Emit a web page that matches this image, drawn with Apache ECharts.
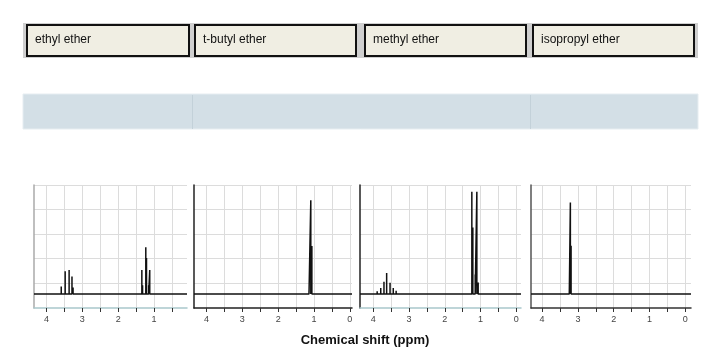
<!DOCTYPE html>
<html>
<head>
<meta charset="utf-8">
<script src="https://cdn.jsdelivr.net/npm/echarts@6/dist/echarts.min.js"></script>
<style>html,body{margin:0;padding:0;background:#fff}#c{width:722px;height:359px}</style>
</head>
<body>
<div id="c"></div>
<script>
// ---- data ----
const panelNames = ['ethyl ether', 't-butyl ether', 'methyl ether', 'isopropyl ether'];
const xTickValues = [0, 0.5, 1, 1.5, 2, 2.5, 3, 3.5, 4];
const xLabelValues = [0, 1, 2, 3, 4];
const yGridValues = [0.1, 0.325, 0.55, 0.775, 1.0];
const axisTitle = 'Chemical shift (ppm)';

const ethylShift  = [3.59, 3.48, 3.37, 3.29, 3.26, 1.34, 1.32, 1.23, 1.21, 1.15, 1.12];
const ethylHeight = [0.07, 0.21, 0.22, 0.16, 0.06, 0.22, 0.08, 0.43, 0.33, 0.08, 0.22];
const tbutylShift  = [1.14, 1.09, 1.06];
const tbutylHeight = [0.03, 0.86, 0.44];
const methylShift  = [3.89, 3.79, 3.70, 3.625, 3.53, 3.44, 3.36, 1.244, 1.216, 1.15, 1.104, 1.067];
const methylHeight = [0.025, 0.055, 0.113, 0.193, 0.104, 0.055, 0.03, 0.939, 0.61, 0.18, 0.939, 0.107];
const isoShift  = [3.24, 3.21, 3.19];
const isoHeight = [0.024, 0.84, 0.443];

const shifts = [ethylShift, tbutylShift, methylShift, isoShift];
const heights = [ethylHeight, tbutylHeight, methylHeight, isoHeight];

// ---- layout ----
const grids = [
  {left: 34, top: 185, width: 153, height: 123, xmin: 0.08, xmax: 4.35, yLine: '#aaaaaa', xLine: '#a9c8cc'},
  {left: 194, top: 185, width: 158, height: 123, xmin: -0.06, xmax: 4.35, yLine: '#222222', xLine: '#222222'},
  {left: 360, top: 185, width: 161, height: 123, xmin: -0.13, xmax: 4.37, yLine: '#222222', xLine: '#a9c8cc'},
  {left: 531, top: 185, width: 160, height: 123, xmin: -0.16, xmax: 4.31, yLine: '#555555', xLine: '#333333'}
];
const yMin = -0.128, yMax = 1.0;

function spectrum(i) {
  const g = grids[i];
  const pts = shifts[i].map((s, k) => [s, heights[i][k]]).sort((a, b) => b[0] - a[0]);
  const out = [[g.xmax, 0]];
  pts.forEach(p => { out.push([p[0], 0]); out.push([p[0], p[1]]); out.push([p[0], 0]); });
  out.push([g.xmin, 0]);
  return out;
}

const option = {
  animation: false,
  backgroundColor: '#ffffff',
  grid: grids.map(g => ({left: g.left, top: g.top, width: g.width, height: g.height, containLabel: false})),
  xAxis: grids.map((g, i) => ({
    type: 'value', gridIndex: i, inverse: true, min: g.xmin, max: g.xmax,
    axisLine: {show: true, onZero: false, lineStyle: {color: g.xLine, width: 1.5}},
    axisTick: {show: true, customValues: xTickValues, length: 4, lineStyle: {color: '#333', width: 1}},
    axisLabel: {show: true, customValues: xLabelValues, fontSize: 9, color: '#444', margin: 7,
                fontFamily: 'Liberation Sans'},
    splitLine: {show: true, lineStyle: {color: '#dcdcdc', width: 1}}
  })),
  yAxis: grids.map((g, i) => ({
    type: 'value', gridIndex: i, min: yMin, max: yMax,
    axisLine: {show: true, onZero: false, lineStyle: {color: g.yLine, width: 1.5}},
    axisTick: {show: false, customValues: yGridValues},
    axisLabel: {show: false},
    splitLine: {show: true, lineStyle: {color: '#dcdcdc', width: 1}}
  })),
  series: grids.map((g, i) => ({
    type: 'line', xAxisIndex: i, yAxisIndex: i, data: spectrum(i),
    symbol: 'none', lineStyle: {color: '#111', width: 1.5}, clip: true
  })),
  graphic: [
    {type: 'rect', shape: {x: 23, y: 23, width: 675, height: 35}, style: {fill: '#cfcfcf'}, silent: true},
    ...[[26, 164], [194, 163], [364, 163], [532, 163]].map((b, i) => ({
      type: 'group', children: [
        {type: 'rect', shape: {x: b[0] + 1, y: 25, width: b[1] - 2, height: 31},
         style: {fill: '#f0eee3', stroke: '#111', lineWidth: 2}},
        {type: 'text', x: b[0] + 9, y: 40, style: {text: panelNames[i], fill: '#111', font: '12px "Liberation Sans"', verticalAlign: 'middle'}}
      ]
    })),
    {type: 'rect', shape: {x: 23, y: 94, width: 675, height: 35}, style: {fill: '#d3dfe6', stroke: '#e6edf1', lineWidth: 1}},
    {type: 'line', shape: {x1: 192.5, y1: 95, x2: 192.5, y2: 129}, style: {stroke: '#c3d1d9', lineWidth: 1}},
    {type: 'line', shape: {x1: 530.5, y1: 95, x2: 530.5, y2: 129}, style: {stroke: '#c3d1d9', lineWidth: 1}},
    {type: 'text', x: 365, y: 340, style: {text: axisTitle, fill: '#111', font: 'bold 13px "Liberation Sans"', align: 'center', verticalAlign: 'middle'}}
  ]
};

const chart = echarts.init(document.getElementById('c'), null, {renderer: 'canvas'});
chart.setOption(option);
</script>
</body>
</html>
